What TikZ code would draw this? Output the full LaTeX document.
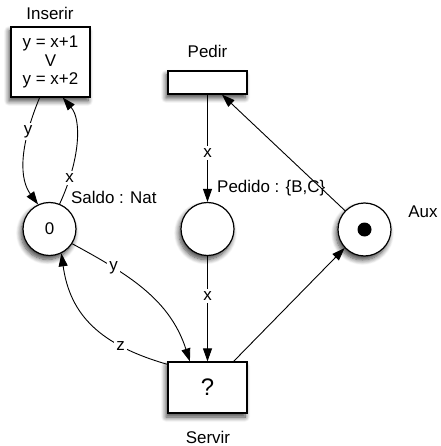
\documentclass[tikz,border=0pt]{standalone}
\usepackage{fontspec}
\setmainfont{Liberation Sans}
\usetikzlibrary{arrows.meta,shadows.blur}
\begin{document}
\begin{tikzpicture}[x=1bp,y=-1bp,
  every node/.style={font=\fontsize{17}{18.5}\selectfont},
  myshadow/.style={blur shadow={shadow xshift=-2bp,shadow yshift=-4bp,shadow blur radius=5bp,shadow blur steps=8,shadow opacity=75}},
  trans/.style={draw,fill=white,line width=1.2bp,inner sep=0pt,myshadow},
  place/.style={draw,circle,fill=white,line width=1.2bp,minimum size=53bp,inner sep=0pt,myshadow},
  arc/.style={line width=0.9bp,-{Triangle[length=13bp,width=9bp]}},
  lbl/.style={fill=white,inner sep=2.5bp}]
\useasboundingbox (0,0) rectangle (441,446);
% transitions
\node[trans,minimum width=79bp,minimum height=70bp,align=center] (ins) at (50.5,62) {y = x+1\\V\\y = x+2};
\node[trans,minimum width=79bp,minimum height=23bp] (pedir) at (207.5,82.5) {};
\node[trans,minimum width=79bp,minimum height=51bp,font=\fontsize{24}{26}\selectfont] (ser) at (207.5,387.5) {?};
% places
\node[place] (saldo) at (49.5,229) {0};
\node[place] (pedido) at (207.5,229) {};
\node[place] (aux) at (364.5,229.5) {};
\node[circle,fill=black,minimum size=14bp,inner sep=0pt] (tok) at (aux.center) {};
% names
\node (tins) at (50,13) {Inserir};
\node (tpedir) at (207.5,51) {Pedir};
\node (tser) at (208,437) {Servir};
\node (taux) at (423,212) {Aux};
\node[anchor=west,inner sep=0pt] (tsaldo) at (71,197) {Saldo : Nat};
\node[anchor=west,inner sep=0pt] (tpedido) at (217,188) {Pedido : \{B,C\}};
% arcs
\draw[arc] (ins.253.3) .. controls (18,150) and (20,180) .. (saldo.115) node[lbl,pos=0.24] {y};
\draw[arc] (saldo.68) .. controls (80,160) and (82,120) .. (ins.289.7) node[lbl,pos=0.2] {x};
\draw[arc] (pedir) -- (pedido) node[lbl,pos=0.54] {x};
\draw[arc] (aux.136.5) -- (pedir.-40.8);
\draw[arc] (pedido) -- (ser) node[lbl,pos=0.38] {x};
\draw[arc] (ser.45) -- (aux.223.5);
\draw[arc] (saldo.327.5) .. controls (130,275) and (170,300) .. (ser.124.5) node[lbl,pos=0.26] {y};
\draw[arc] (ser.150) .. controls (100,345) and (70,315) .. (saldo.296) node[lbl,pos=0.27] {z};
\end{tikzpicture}
\end{document}
